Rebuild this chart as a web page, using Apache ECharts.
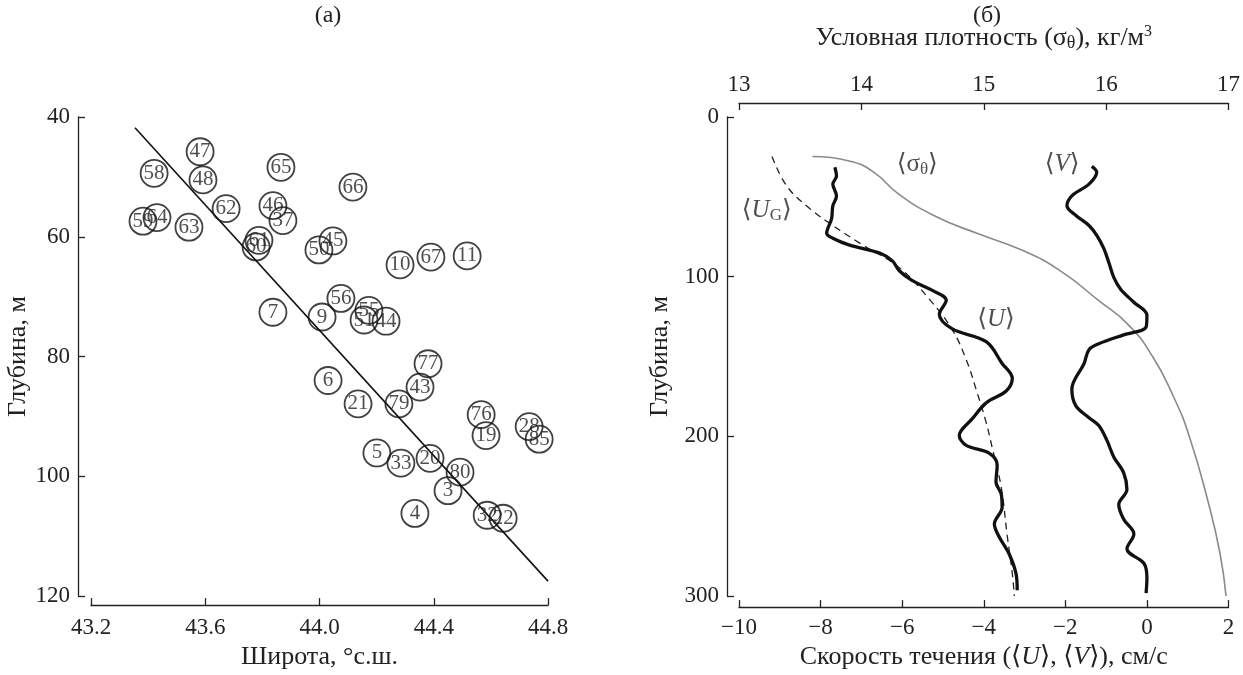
<!DOCTYPE html>
<html>
<head>
<meta charset="utf-8">
<script src="https://cdn.jsdelivr.net/npm/echarts@6/dist/echarts.min.js"></script>
<style>
  html, body { margin: 0; padding: 0; background: #fff; }
  #chart { width: 1243px; height: 675px; }
</style>
</head>
<body>
<div id="chart"></div>
<script>
// (а) station numbers, latitude, depth
const stationIds = ["47", "58", "48", "65", "66", "62", "46", "37", "59", "64", "63", "61", "60", "50", "45", "10", "67", "11", "7", "9", "56", "55", "51", "44", "77", "43", "6", "21", "79", "76", "19", "28", "85", "5", "33", "20", "80", "3", "4", "32", "22"];
const stationLat = [43.582, 43.421, 43.592, 43.865, 44.117, 43.673, 43.837, 43.872, 43.382, 43.431, 43.543, 43.788, 43.778, 43.998, 44.047, 44.282, 44.39, 44.517, 43.837, 44.009, 44.075, 44.173, 44.156, 44.233, 44.38, 44.352, 44.03, 44.135, 44.278, 44.566, 44.583, 44.734, 44.769, 44.201, 44.285, 44.387, 44.492, 44.45, 44.334, 44.587, 44.643];
const stationDepth = [45.8, 49.4, 50.5, 48.4, 51.7, 55.3, 54.8, 57.3, 57.4, 56.8, 58.4, 60.6, 61.7, 62.2, 60.7, 64.7, 63.4, 63.2, 72.6, 73.4, 70.3, 72.3, 73.9, 74.1, 81.2, 85.1, 84.0, 87.9, 87.9, 89.7, 93.2, 91.7, 93.8, 96.1, 97.8, 97.0, 99.3, 102.4, 106.2, 106.5, 107.0];
const fitLat = [43.354, 44.8];
const fitDepth = [41.8, 117.5];

// (б) profiles: velocity (cm/s) / density vs depth (m)
const uVel = [-7.65, -7.61, -7.7, -7.61, -7.7, -7.73, -7.85, -7.7, -7.29, -6.55, -6.24, -6.07, -5.75, -5.26, -4.92, -5.09, -4.77, -3.94, -3.55, -3.3, -3.45, -3.94, -4.28, -4.6, -4.43, -3.87, -3.67, -3.7, -3.57, -3.55, -3.74, -3.62, -3.38, -3.21, -3.18];
const uDepth = [31.5, 37.0, 42.0, 49.4, 55.6, 63.6, 72.8, 75.9, 80.2, 85.2, 90.1, 96.3, 102.5, 108.6, 114.8, 123.5, 132.7, 140.7, 154.3, 163.6, 171.6, 179.0, 188.9, 199.4, 205.6, 210.5, 217.9, 228.4, 236.4, 244.4, 254.9, 263.0, 273.5, 285.8, 296.3];
const vVel = [-1.35, -1.23, -1.42, -1.84, -1.96, -1.74, -1.42, -1.23, -1.06, -0.93, -0.81, -0.64, -0.32, 0.0, -0.02, -0.57, -1.18, -1.42, -1.54, -1.84, -1.74, -1.42, -1.18, -0.98, -0.81, -0.57, -0.49, -0.69, -0.57, -0.32, -0.49, -0.07, 0.0, -0.02];
const vDepth = [30.9, 34.6, 42.0, 49.4, 55.6, 61.7, 67.9, 74.1, 82.1, 91.4, 100.6, 108.0, 116.0, 124.1, 131.5, 136.4, 142.0, 145.7, 154.3, 170.4, 180.9, 188.3, 193.2, 202.5, 213.0, 222.8, 233.3, 242.6, 251.9, 261.1, 270.4, 279.6, 288.9, 298.1];
const ugVel = [-9.19, -8.83, -8.26, -7.7, -7.04, -6.07, -5.33, -4.77, -4.43, -4.16, -3.94, -3.79, -3.57, -3.43, -3.3, -3.25];
const ugDepth = [24.7, 43.2, 57.4, 67.9, 79.0, 94.4, 114.2, 133.3, 151.9, 172.8, 191.4, 207.4, 232.1, 261.1, 285.8, 300];
const sigma = [13.6, 13.9, 14.1, 14.3, 14.6, 14.95, 15.3, 15.62, 15.94, 16.18, 16.38, 16.55, 16.68, 16.83, 16.93, 16.98];
const sigmaDepth = [24.7, 27.5, 34.5, 48.0, 62.0, 73.0, 83.0, 96.0, 115.0, 130.0, 150.0, 175.0, 200.0, 240.0, 273.0, 300];

// curve labels placed in (velocity, depth)
const curveLabels = [
  { text: "{b|⟨}{s|σ}{sub|θ}{b|⟩}", at: [-5.63, 30] },
  { text: "{b|⟨}{i|V}{b|⟩}", at: [-2.08, 30] },
  { text: "{b|⟨}{i|U}{sub|G}{b|⟩}", at: [-9.32, 58.6] },
  { text: "{b|⟨}{i|U}{b|⟩}", at: [-3.7, 126.5] },
];

const FONT = "'Liberation Serif', 'DejaVu Serif', serif";
const INK = "#222";

const pair = (xs, ys) => xs.map((x, i) => [x, ys[i]]);
const minus = (v) => String(v).replace("-", "\u2212");

function richSet(size) {
  return {
    b: { fontFamily: FONT, fontSize: size, color: INK },
    s: { fontFamily: FONT, fontSize: size, color: INK },
    i: { fontFamily: FONT, fontSize: size, fontStyle: "italic", color: INK },
    sub: { fontFamily: FONT, fontSize: Math.round(size * 0.68), color: INK, verticalAlign: "bottom", padding: [Math.round(size * 0.4), 0, 0, 0] },
    sup: { fontFamily: FONT, fontSize: Math.round(size * 0.62), color: INK, verticalAlign: "top", padding: [0, 0, Math.round(size * 0.4), 0] },
  };
}

function axisBase(extra) {
  return Object.assign({
    type: "value",
    splitLine: { show: false },
    axisLine: { show: true, onZero: false, lineStyle: { color: INK, width: 1.3 } },
    axisTick: { show: true, inside: true, length: 7, lineStyle: { color: INK, width: 1.3 } },
    axisLabel: { fontFamily: FONT, fontSize: 23, color: INK, margin: 8 },
    nameTextStyle: { fontFamily: FONT, fontSize: 26, color: INK, rich: richSet(26) },
    nameLocation: "middle",
  }, extra);
}

const chart = echarts.init(document.getElementById("chart"));

chart.setOption({
  animation: false,
  backgroundColor: "#fff",
  title: [
    { text: "(а)", left: 323, top: -1, textAlign: "center", textStyle: { fontFamily: FONT, fontSize: 24, fontWeight: "normal", color: INK } },
    { text: "(б)", left: 982, top: -1, textAlign: "center", textStyle: { fontFamily: FONT, fontSize: 24, fontWeight: "normal", color: INK } },
  ],
  grid: [
    { left: 91, top: 117, width: 457, height: 486 },
    { left: 739, top: 117, width: 491, height: 486 },
  ],
  xAxis: [
    axisBase({
      gridIndex: 0, min: 43.2, max: 44.8, interval: 0.4, offset: 9,
      name: "Широта, °с.ш.", nameGap: 37,
      axisLabel: { fontFamily: FONT, fontSize: 23, color: INK, margin: 11, formatter: (v) => v.toFixed(1) },
    }),
    axisBase({
      gridIndex: 1, min: -10, max: 2, interval: 2, offset: 11, position: "bottom",
      name: "Скорость течения (⟨{i|U}⟩, ⟨{i|V}⟩), см/с", nameGap: 35,
      axisLabel: { fontFamily: FONT, fontSize: 23, color: INK, margin: 9, formatter: minus },
    }),
    axisBase({
      gridIndex: 1, min: 13, max: 17, interval: 1, offset: 14, position: "top",
      name: "Условная плотность (σ{sub|θ}), кг/м{sup|3}", nameGap: 51,
      axisLabel: { fontFamily: FONT, fontSize: 23, color: INK, margin: 7 },
    }),
  ],
  yAxis: [
    axisBase({
      gridIndex: 0, min: 40, max: 120, interval: 20, inverse: true, offset: 13,
      name: "Глубина, м", nameGap: 44, nameRotate: 90,
    }),
    axisBase({
      gridIndex: 1, min: 0, max: 300, interval: 100, inverse: true, offset: 12,
      name: "Глубина, м", nameGap: 54, nameRotate: 90,
    }),
  ],
  series: [
    {
      type: "line",
      xAxisIndex: 0, yAxisIndex: 0,
      data: pair(fitLat, fitDepth),
      showSymbol: false,
      lineStyle: { color: "#111", width: 1.6 },
      z: 1,
    },
    {
      type: "scatter",
      xAxisIndex: 0, yAxisIndex: 0,
      data: stationIds.map((id, i) => ({ name: id, value: [stationLat[i], stationDepth[i]] })),
      symbol: "circle",
      symbolSize: 27,
      itemStyle: { color: "rgba(255,255,255,0)", borderColor: "#111", borderWidth: 1.8 },
      label: {
        show: true, position: "inside", formatter: "{b}",
        fontFamily: FONT, fontSize: 21, color: "#222",
      },
      z: 2,
    },
    {
      type: "line",
      xAxisIndex: 2, yAxisIndex: 1,
      data: pair(sigma, sigmaDepth),
      showSymbol: false, smooth: 0.5,
      lineStyle: { color: "#8a8a8a", width: 1.6 },
    },
    {
      type: "line",
      xAxisIndex: 1, yAxisIndex: 1,
      data: pair(ugVel, ugDepth),
      showSymbol: false, smooth: 0.4,
      lineStyle: { color: INK, width: 1.3, type: [7, 5] },
    },
    {
      type: "line",
      xAxisIndex: 1, yAxisIndex: 1,
      data: pair(uVel, uDepth),
      showSymbol: false, smooth: 0.35,
      lineStyle: { color: "#111", width: 3.3 },
    },
    {
      type: "line",
      xAxisIndex: 1, yAxisIndex: 1,
      data: pair(vVel, vDepth),
      showSymbol: false, smooth: 0.35,
      lineStyle: { color: "#111", width: 3.3 },
    },
    {
      type: "scatter",
      xAxisIndex: 1, yAxisIndex: 1,
      data: curveLabels.map((c) => ({ name: c.text, value: c.at })),
      symbolSize: 0,
      label: { show: true, position: "inside", formatter: "{b}", rich: richSet(25) },
      silent: true,
    },
  ],
});
</script>
</body>
</html>
